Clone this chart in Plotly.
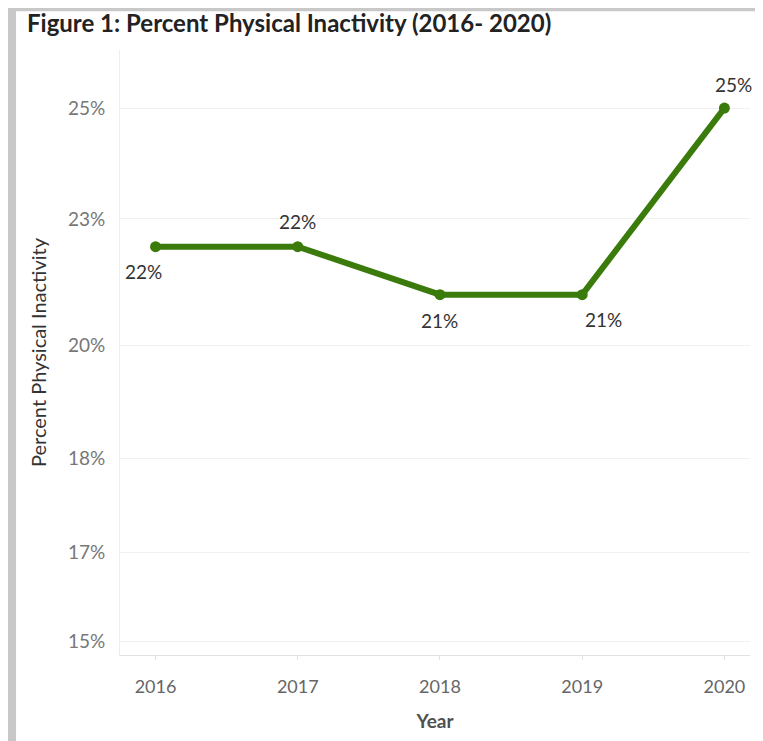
import plotly.graph_objects as go

years = [2016, 2017, 2018, 2019, 2020]
inactivity = [22.4, 22.4, 21.5, 21.5, 25.0]
labels = ["22%", "22%", "21%", "21%", "25%"]
label_dx = [-12, 0, 0, 21, 9]
label_dy = [-25, 25, -26, -25, 24]

ytick_vals = [15, 16.66, 18.42, 20.55, 22.92, 25]
ytick_text = ["15%", "17%", "18%", "20%", "23%", "25%"]

GREEN = "#3a7b0c"
FONT = "Lato, 'Open Sans', sans-serif"

fig = go.Figure()
fig.add_trace(go.Scatter(
    x=years, y=inactivity, mode="lines+markers",
    line=dict(color=GREEN, width=6),
    marker=dict(color=GREEN, size=11),
    hoverinfo="skip", showlegend=False,
))

for x, y, t, dx, dy in zip(years, inactivity, labels, label_dx, label_dy):
    fig.add_annotation(x=x, y=y, text=t, showarrow=False, xshift=dx, yshift=dy,
                       font=dict(size=19, color="#333333", family=FONT))

# gray screenshot frame
fig.add_shape(type="rect", xref="paper", yref="paper",
              x0=-0.165, x1=1.008, y0=-0.2, y1=1.064,
              fillcolor="white", line=dict(width=0), layer="below")

fig.update_layout(
    width=763, height=741,
    margin=dict(l=112, r=21, t=42, b=94),
    paper_bgcolor="#c8c8c8", plot_bgcolor="white",
    font=dict(family=FONT, color="#333333"),
    title=dict(text="<b>Figure 1: Percent Physical Inactivity (2016- 2020)</b>",
               x=19 / 763, xanchor="left", y=1 - 15.5 / 741, yanchor="middle",
               font=dict(size=24, color="#222222", family=FONT)),
)
fig.update_xaxes(
    range=[2015.75, 2020.18], tickvals=years, ticktext=[str(y) for y in years],
    showgrid=False, zeroline=False, automargin=False,
    showline=True, linecolor="#e2e2e2", linewidth=1,
    ticks="outside", ticklen=4, tickcolor="#e2e2e2",
    tickfont=dict(size=18, color="#666666"), ticklabelstandoff=11,
    title=dict(text="<b>Year</b>", font=dict(size=19, color="#505050"), standoff=19),
)
fig.update_yaxes(
    range=[14.74, 26.09], tickvals=ytick_vals, ticktext=ytick_text,
    showgrid=True, gridcolor="#f0f0f0", gridwidth=1, zeroline=False, automargin=False,
    showline=True, linecolor="#eeeeee", linewidth=1,
    ticks="", tickfont=dict(size=19, color="#777777"), ticklabelstandoff=10,
    title=dict(text="Percent Physical Inactivity", font=dict(size=20, color="#333333"), standoff=15),
)

fig.write_html("out.html")
